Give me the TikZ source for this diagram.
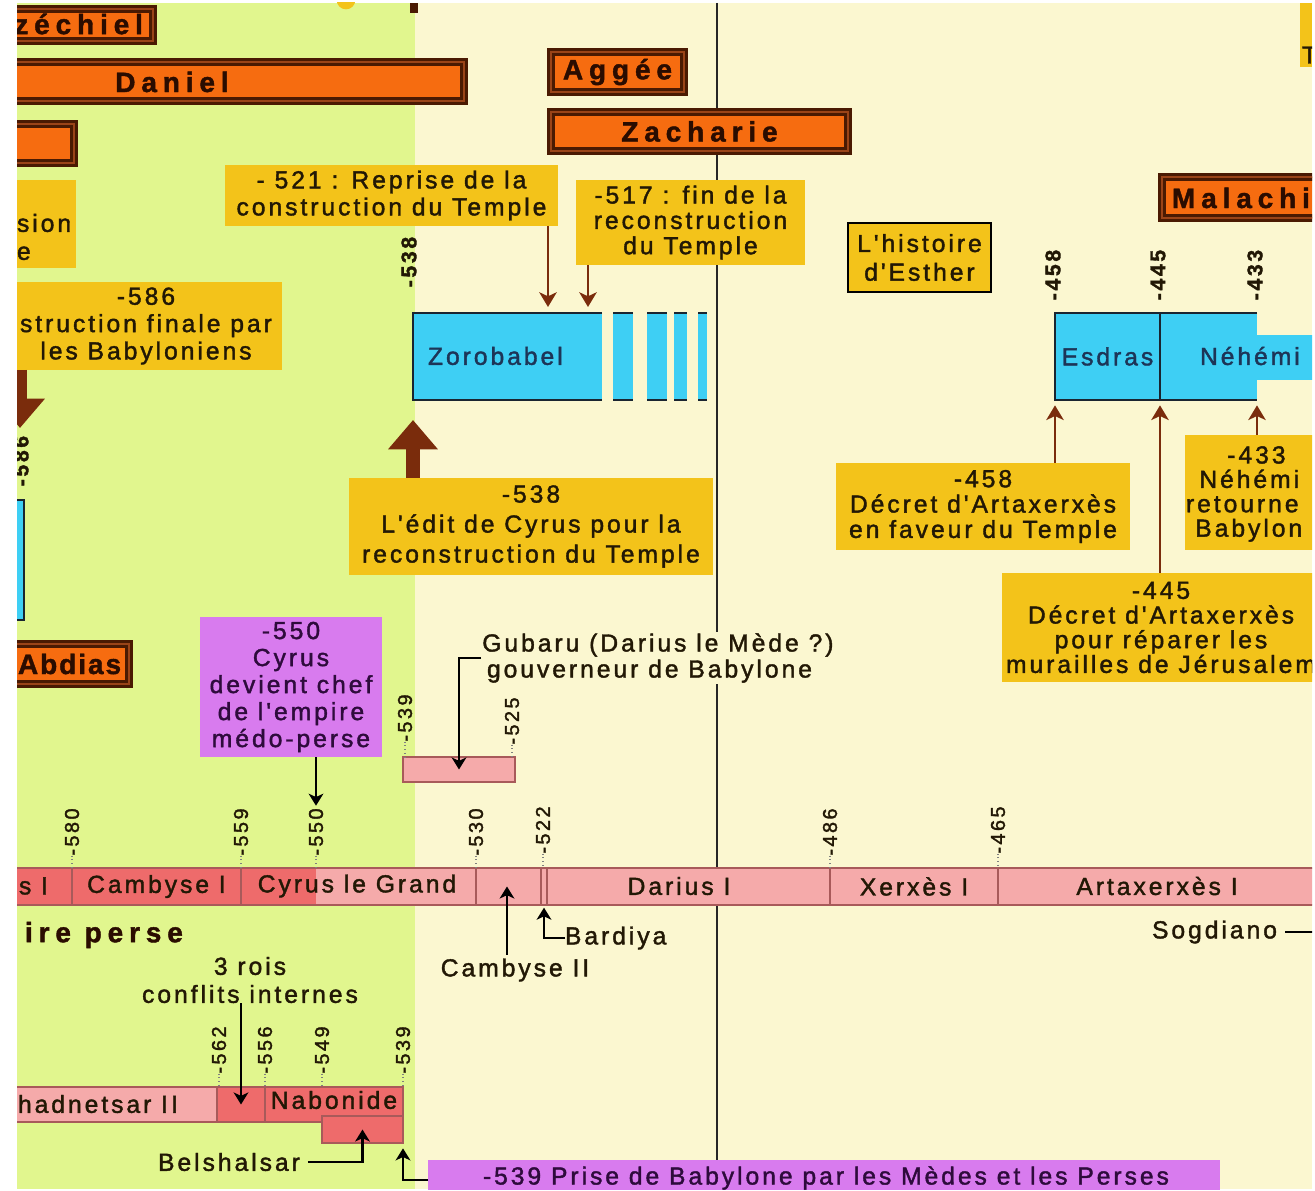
\documentclass[tikz,border=0pt]{standalone}
\usepackage{fontspec}
\setmainfont{Liberation Sans}
\newfontfamily\lf[LetterSpace=12, FakeBold=1.6]{Liberation Sans}
\newfontfamily\tf[LetterSpace=21, FakeBold=1.5]{Liberation Sans}
\usetikzlibrary{arrows.meta}
\definecolor{bggreen}{HTML}{E1F68E}
\definecolor{bgcream}{HTML}{FBF7D0}
\definecolor{yel}{HTML}{F3C31A}
\definecolor{org}{HTML}{F66C10}
\definecolor{dbrown}{HTML}{4A1A02}
\definecolor{mbrown}{HTML}{9A4418}
\definecolor{arrbrown}{HTML}{7A2C0C}
\definecolor{cyanb}{HTML}{3ECFF4}
\definecolor{pinkb}{HTML}{F5AAAA}
\definecolor{redb}{HTML}{EE6B6B}
\definecolor{purp}{HTML}{D87BEE}
\definecolor{segline}{HTML}{A85A5A}
\definecolor{txt}{HTML}{221805}
\definecolor{bluetxt}{HTML}{1D3557}
\definecolor{purptxt}{HTML}{2E0B3C}
\definecolor{ttltxt}{HTML}{2A0C00}
\definecolor{bordc}{HTML}{1A2530}
\newcommand\fl{\lf\fontsize{18.5}{20.25}\selectfont}
\newcommand\fls[1]{\lf\fontsize{18.5}{#1}\selectfont}
\newcommand\ft{\tf\bfseries\fontsize{21}{24}\selectfont}
\newcommand\fyr{\lf\fontsize{15}{15}\selectfont}
\newcommand\fyb{\lf\bfseries\fontsize{16}{16}\selectfont}
\newcommand\boxat[7]{\node[#1, minimum width={(#5-#3)*0.75}, minimum height={(#6-#4)*0.75}] (#2) at ({(#3+#5)/2},{(#4+#6)/2}) {#7};}
\begin{document}
\begin{tikzpicture}[x=0.75pt, y=-0.75pt,
  every node/.style={inner sep=0pt, outer sep=0pt, text=txt},
  ybox/.style={fill=yel, align=center, font=\fl},
  ebox/.style={fill=yel, draw=black, line width=1.6pt, align=center, font=\fl},
  pbox/.style={fill=purp, align=center, font=\fl, text=purptxt},
  bbox/.style={fill=cyanb, font=\fl, text=bluetxt},
  proph/.style={fill=org, draw=dbrown, line width=1.7pt, double=mbrown, double distance=2pt},
  ttl/.style={font=\ft, text=ttltxt},
  pseg/.style={fill=pinkb, draw=segline, line width=1pt},
  rseg/.style={fill=redb, draw=segline, line width=1pt},
  yr/.style={rotate=90, font=\fyr},
  yrb/.style={rotate=90, font=\fyb},
  bord/.style={draw=bordc, line width=2.2pt},
  barrow/.style={draw=arrbrown, line width=2.2pt, -{Stealth[length=11pt,width=13pt,inset=3pt]}},
  bigarrow/.style={draw=arrbrown, line width=10.5pt, -{Triangle[length=22pt,width=36pt]}},
  karrow/.style={draw=black, line width=1.8pt, -{Stealth[length=9pt,width=11pt,inset=2.5pt]}},
  tick/.style={draw=gray, line width=0.8pt, dotted}
]
\useasboundingbox (0,0) rectangle (1315,1191);
\fill[white] (0,0) rectangle (1315,1191);
\begin{scope}
\clip (17,3) rectangle (1312,1189);
\fill[bggreen] (17,3) rectangle (415,1189);
\fill[bgcream] (415,3) rectangle (1312,1189);
\coordinate (vtop) at (717,3);
\coordinate (vbot) at (717,1189);
\draw[line width=1.5pt, black!85] (vtop) -- (vbot);
% fragments at the top
\fill[yel] (346,0) ellipse [x radius=7pt, y radius=7pt];
\fill[dbrown] (410,3) rectangle (418,13);
\fill[yel] (1300,3) rectangle (1312,67);
\node[anchor=west, font=\fl] (tfrag) at (1302,55) {T};
% prophets
\boxat{proph}{pez}{5}{9}{153}{41}{}
\node[anchor=east, ttl] (tez) at (143,24) {zéchiel};
\boxat{proph}{pdan}{5}{62}{464}{101}{}
\node[ttl] (tdan) at (172,82) {Daniel};
\boxat{proph}{p3}{5}{124}{74}{163}{}
\boxat{proph, ttl}{pag}{551}{52}{684}{92}{Aggée}
\boxat{proph, ttl}{pza}{551}{112}{848}{151}{Zacharie}
\boxat{proph}{pmal}{1162}{177}{1330}{218}{}
\node[anchor=west, ttl] (tmal) at (1172,198) {Malachi};
\boxat{proph}{pab}{5}{644}{129}{684}{}
\node[anchor=west, ttl] (tab) at (18,664) {\addfontfeatures{LetterSpace=7}Abdias};
% yellow labels
\boxat{ybox, font=\fls{20.25}}{n521}{225}{165}{558}{226}{- 521 : Reprise de la\\construction du Temple}
\boxat{ybox, font=\fls{19}}{n517}{576}{180}{805}{265}{-517 : fin de la\\reconstruction\\du Temple}
\boxat{ybox}{nsion}{5}{180}{76}{268}{}
\node[anchor=west, align=left, font=\fls{21}] (tsion) at (17,237) {sion\\e};
\boxat{ybox, font=\fls{20.5}}{n586}{10}{282}{282}{370}{-586\\struction finale par\\les Babyloniens}
\boxat{ybox, font=\fls{22.5}}{n538}{349}{478}{713}{575}{-538\\L'édit de Cyrus pour la\\reconstruction du Temple}
\boxat{ebox, font=\fls{21.5}}{nest}{848}{223}{991}{292}{L'histoire\\d'Esther}
\boxat{ybox, font=\fls{19}}{n458}{836}{463}{1130}{550}{-458\\Décret d'Artaxerxès\\en faveur du Temple}
\boxat{ybox}{n433}{1185}{435}{1330}{550}{}
\node[anchor=west, align=left, font=\fls{18.3}] (t433) at (1186,494) {\hspace*{31pt}-433\\\hspace*{10pt}Néhémi\\retourne\\\hspace*{7pt}Babylon};
\boxat{ybox, font=\fls{18.5}}{n445}{1002}{573}{1320}{682}{-445\\Décret d'Artaxerxès\\pour réparer les\\murailles de Jérusalem}
% purple
\boxat{pbox, font=\fls{20.25}}{n550}{200}{617}{382}{757}{-550\\Cyrus\\devient chef\\de l'empire\\médo-perse}
\boxat{pbox}{n539}{428}{1160}{1220}{1200}{}
\node[font=\fl, text=purptxt] (t539) at (826,1178) {-539 Prise de Babylone par les Mèdes et les Perses};
% blue boxes
\boxat{bbox}{zoro}{413}{313}{602}{400}{}
\draw[bord] (zoro.north east) -- (zoro.north west) -- (zoro.south west) -- (zoro.south east);
\node[anchor=west, font=\fl, text=bluetxt] (tzoro) at (428,356) {Zorobabel};
\foreach \a/\b in {613/633, 647/667, 674/687, 698/707} {
  \fill[cyanb] (\a,313) rectangle (\b,400);
  \draw[bord] (\a,313) -- (\b,313) (\a,400) -- (\b,400);
}
\boxat{bbox}{esd}{1055}{313}{1160}{400}{Esdras}
\boxat{bbox}{neh}{1160}{313}{1257}{400}{}
\fill[cyanb] (1256,335) rectangle (1320,380);
\draw[bord] (neh.north east) -- (esd.north west) -- (esd.south west) -- (neh.south east);
\draw[bord] (esd.north east) -- (esd.south east);
\node[anchor=west, font=\fl, text=bluetxt] (tneh) at (1200,356) {Néhémi};
\fill[cyanb] (5,500) rectangle (24,620);
\draw[bord] (5,500) -- (24,500) -- (24,620) -- (5,620);
\node[yrb] (l586) at (21,461) {-586};
% brown arrows
\coordinate (x548) at (548,0);
\coordinate (x588) at (588,0);
\coordinate (tip586) at (20,428);
\draw[barrow, shorten >=4.5pt] (n521.south -| x548) -- (zoro.north -| x548);
\draw[barrow, shorten >=4.5pt] (n517.south -| x588) -- (zoro.north -| x588);
\draw[bigarrow, shorten >=15pt] (n538.north -| zoro.west) -- (zoro.south west);
\draw[bigarrow] (n586.south -| tip586) -- (tip586);
\draw[barrow, shorten >=4pt] (n458.north -| esd.west) -- (esd.south west);
\draw[barrow, shorten >=4pt] (n445.north -| esd.east) -- (esd.south east);
\draw[barrow, shorten >=4pt] (n433.north -| neh.east) -- (neh.south east);
% top year labels
\node[yrb] (l538) at (409,262) {-538};
\node[yrb] (l458) at (1053,275) {-458};
\node[yrb] (l445) at (1158,275) {-445};
\node[yrb] (l433) at (1255,275) {-433};
% Gubaru
\boxat{pseg}{gbox}{403}{757}{515}{782}{}
\node[yr] (l539a) at (405,718) {-539};
\node[yr] (l525) at (512,721) {-525};
\draw[tick] (l539a.west) -- (l539a.west |- gbox.north);
\draw[tick] (l525.west) -- (l525.west |- gbox.north);
\node[anchor=west, fill=bgcream, align=left, font=\fls{19.5}, inner sep=1pt] (gub) at (481,658) {Gubaru (Darius le Mède ?)\\\hspace*{3.5pt}gouverneur de Babylone};
\draw[karrow] (gub.west) -| (gbox.center);
% Persian timeline
\boxat{rseg}{s0}{5}{868}{72}{905}{}
\boxat{rseg, font=\fl}{s1}{72}{868}{241}{905}{Cambyse I}
\boxat{pseg}{s2}{241}{868}{476}{905}{}
\fill[redb] (241.7,868.7) rectangle (316,904.3);
\node[font=\fl] (ts2) at (357,886) {Cyrus le Grand};
\boxat{pseg}{s3}{476}{868}{541}{905}{}
\boxat{pseg}{s4}{541}{868}{547}{905}{}
\boxat{pseg}{s5}{547}{868}{830}{905}{}
\node[font=\fl] (ts5) at (679,886) {Darius I};
\boxat{pseg, font=\fl}{s6}{830}{868}{998}{905}{Xerxès I}
\boxat{pseg}{s7}{998}{868}{1330}{905}{}
\node[font=\fl] (ts7) at (1157,886) {Artaxerxès I};
\node[anchor=west, font=\fl] (ts0) at (19,886) {s I};
\node[yr] (l580) at (72,832) {-580};
\node[yr] (l559) at (241,832) {-559};
\node[yr] (l550) at (316,832) {-550};
\node[yr] (l530) at (476,832) {-530};
\node[yr] (l522) at (543,830) {-522};
\node[yr] (l486) at (830,832) {-486};
\node[yr] (l465) at (998,830) {-465};
\foreach \n in {l580,l559,l550,l530,l522,l486,l465}
  \draw[tick] (\n.west) -- (\n.west |- s1.north);
\draw[karrow, shorten >=2pt] (n550.south -| l550.east) -- (l550.east);
\coordinate (x507) at (507,0);
\node[font=\fl] (cam2) at (515,970) {Cambyse II};
\draw[karrow, shorten <=3pt] (cam2.north -| x507) -- (s3.center -| x507);
\node[anchor=west, font=\fl] (bard) at (565,938) {Bardiya};
\draw[karrow, shorten >=2pt] (bard.west) -| (s4.south);
\node[anchor=east, font=\fl] (sog) at (1277,932) {Sogdiano};
\coordinate (redge) at (1315,932);
\draw[line width=1.3pt, shorten <=6pt] (sog.east) -- (redge);
\node[anchor=west, ttl] (tper) at (25,935) {ire perse};
% Babylonian timeline
\node[font=\fls{21}, align=center] (rois) at (250,980) {3 rois\\conflits internes};
\boxat{pseg}{lb0}{5}{1087}{217}{1122}{}
\boxat{rseg}{lb1}{217}{1087}{265}{1122}{}
\boxat{rseg}{lb2}{265}{1087}{403}{1122}{}
\boxat{rseg}{bel}{322}{1116}{403}{1143}{}
\node[anchor=west, font=\fl] (tlb0) at (18,1104) {hadnetsar II};
\node[font=\fl] (tlb2) at (334,1100) {Nabonide};
\draw[karrow] (rois.south -| lb1.center) -- (lb1.center);
\node[yr] (l562) at (219,1050) {-562};
\node[yr] (l556) at (265,1050) {-556};
\node[yr] (l549) at (322,1050) {-549};
\node[yr] (l539b) at (403,1050) {-539};
\foreach \n in {l562,l556,l549,l539b}
  \draw[tick] (\n.west) -- (\n.west |- lb0.north);
\node[font=\fl] (belt) at (229,1162) {Belshalsar};
\draw[karrow, shorten <=6pt] (belt.east) -| (bel.center);
\draw[karrow, shorten >=4pt] (n539.west) -| (bel.south east);
\end{scope}
\end{tikzpicture}
\end{document}
